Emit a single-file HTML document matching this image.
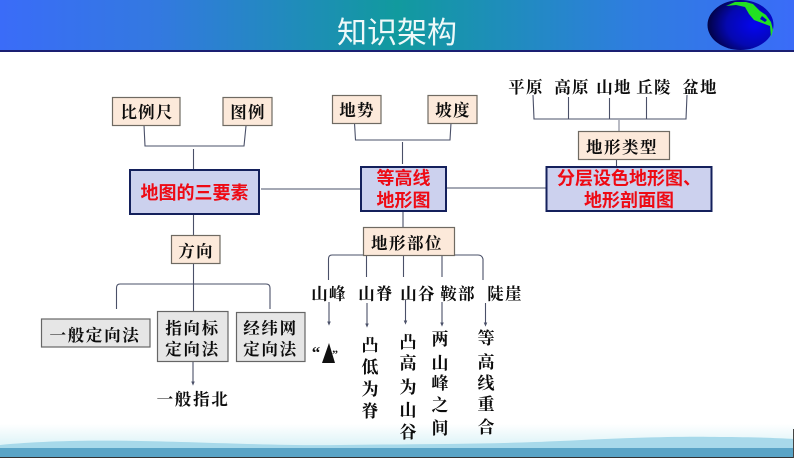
<!DOCTYPE html>
<html><head><meta charset="utf-8"><style>
html,body{margin:0;padding:0;background:#fff;width:794px;height:458px;overflow:hidden}
svg{display:block}
.k{font-family:"Liberation Serif","Noto Serif CJK SC",serif;font-size:16.500px;font-weight:700;fill:#0c0c0c;text-anchor:middle;letter-spacing:1.200px}
.v{font-family:"Liberation Serif","Noto Serif CJK SC",serif;font-size:17px;font-weight:700;fill:#0c0c0c;text-anchor:middle}
.r{font-family:"Liberation Sans","Noto Sans CJK SC",sans-serif;font-size:18px;font-weight:700;fill:#ee0a14;text-anchor:middle}
.c{fill:none;stroke:#4a5068;stroke-width:1.1}
.b{fill:#fce9da;stroke:#6f6a62;stroke-width:1.2}
.g{fill:#e6e6e6;stroke:#666;stroke-width:1.2}
.m{fill:#ccd1ee;stroke:#14205c;stroke-width:2}
</style></head><body>
<svg width="794" height="458" viewBox="0 0 794 458" xmlns="http://www.w3.org/2000/svg">
<defs>
<linearGradient id="h" x1="0" x2="1" y1="0" y2="0"><stop offset="0" stop-color="#3a6cf8"/><stop offset=".2" stop-color="#3379e0"/><stop offset=".5" stop-color="#119a9e"/><stop offset=".8" stop-color="#2f7de0"/><stop offset="1" stop-color="#3a6cf8"/></linearGradient>
<linearGradient id="f" x1="0" x2="0" y1="0" y2="1"><stop offset="0" stop-color="#fff"/><stop offset="1" stop-color="#d6f1f6"/></linearGradient>
<radialGradient id="e" cx=".72" cy=".5" r=".78"><stop offset="0" stop-color="#0505f0"/><stop offset=".55" stop-color="#0508b0"/><stop offset="1" stop-color="#01012c"/></radialGradient>
<marker id="a" markerWidth="5" markerHeight="5" refX="2.500" refY="2.500" orient="auto"><path d="M0 .8L4 2.500L0 4.200Z" fill="#4a5068"/></marker>
</defs>

<rect width="794" height="50" fill="url(#h)"/>
<rect y="50" width="794" height="2" fill="#1a1f72"/>
<text x="397" y="43" font-family="'Liberation Sans','Noto Sans CJK SC',sans-serif" font-size="30" fill="#eef9f9" text-anchor="middle">知识架构</text>

<ellipse cx="740.500" cy="25" rx="33" ry="25" fill="url(#e)"/>
<path d="M726 6L735 2L746 2L753 4L760 11L766 15L771 22L773 30L771 37L770 26L762 23L754 20L749 14L745 7L736 5Z" fill="#22e022"/>
<path d="M762 16L767 20L765 22L760 19Z" fill="#0505c0"/>

<rect y="424" width="794" height="26" fill="url(#f)"/>
<path d="M0 445C40 441 90 440 140 441C200 442 280 446 340 445C420 444 500 444 560 441C620 438 680 436 720 437C750 437 775 438 794 439V450H0Z" fill="#a7d9ea"/>
<rect y="448" width="794" height="9" fill="#5aa4c6"/>
<rect y="457" width="794" height="1" fill="#333"/>
<rect x="793" y="429" width="1" height="29" fill="#444"/>

<path class="c" d="M144 125L145 146H244L246 126"/>
<path class="c" d="M193.500 149V170"/>
<path class="c" d="M261 189H360"/>
<path class="c" d="M446 188H546"/>
<path class="c" d="M354.500 123L355.500 140H450L451 123"/>
<path class="c" d="M402.500 142V164"/>
<path class="c" d="M533 95L534 119H686L687 95M568.500 97V119M609.500 98V119M646.500 97V119"/>
<path class="c" d="M619 120V133" stroke-opacity=".7"/>
<path class="c" d="M616.500 159V167"/>
<path class="c" d="M193.500 214V235M193.500 263V312"/>
<path class="c" d="M116.500 309V288Q116.500 284 120 284H266Q270 284 270 288V309"/>
<path class="c" d="M193 362V384" marker-end="url(#a)"/>
<path class="c" d="M403 211V227"/>
<path class="c" d="M328.500 280V259Q328.500 255 332 255H478Q482 255 483 259V280"/>
<path class="c" d="M366.500 255V277M403.500 255V277M442 255V277"/>
<path class="c" d="M329 302V324" marker-end="url(#a)"/>
<path class="c" d="M367 303V326" marker-end="url(#a)"/>
<path class="c" d="M405.500 300V323" marker-end="url(#a)"/>
<path class="c" d="M442 302V325" marker-end="url(#a)"/>
<path class="c" d="M485.500 303V325" marker-end="url(#a)"/>

<rect class="b" x="112.500" y="97.500" width="67.500" height="28"/>
<text class="k" x="147" y="118">比例尺</text>
<rect class="b" x="223" y="97.500" width="49" height="28"/>
<text class="k" x="248" y="118">图例</text>
<rect class="b" x="332.500" y="95.500" width="48.500" height="28"/>
<text class="k" x="357" y="116">地势</text>
<rect class="b" x="428" y="95.500" width="49" height="28"/>
<text class="k" x="453" y="116">坡度</text>
<rect class="b" x="578.500" y="131.500" width="91" height="28"/>
<text class="k" x="622" y="153" style="letter-spacing:1.500px">地形类型</text>
<rect class="b" x="171.500" y="235.500" width="48.500" height="28"/>
<text class="k" x="196" y="257">方向</text>
<rect class="b" x="363.500" y="227.500" width="91" height="28"/>
<text class="k" x="407" y="249" style="letter-spacing:1.500px">地形部位</text>

<rect class="m" x="130" y="170" width="129" height="44"/>
<text class="r" x="194.500" y="199">地图的三要素</text>
<rect class="m" x="361" y="167" width="85" height="44"/>
<text class="r" x="403.500" y="184.500">等高线</text>
<text class="r" x="403.500" y="206.500">地形图</text>
<rect class="m" x="546.500" y="167" width="165" height="44"/>
<text class="r" x="629" y="184.500">分层设色地形图、</text>
<text class="r" x="629" y="206.500">地形剖面图</text>

<rect class="g" x="41.500" y="319" width="108.500" height="28"/>
<text class="k" x="95" y="341" style="letter-spacing:1.700px">一般定向法</text>
<rect class="g" x="157.500" y="311.500" width="70.500" height="50"/>
<text class="k" x="192.500" y="334" style="letter-spacing:1.700px">指向标</text>
<text class="k" x="192.500" y="355" style="letter-spacing:1.700px">定向法</text>
<rect class="g" x="236.500" y="312.500" width="68.500" height="49"/>
<text class="k" x="270.500" y="334" style="letter-spacing:1.700px">经纬网</text>
<text class="k" x="270.500" y="355" style="letter-spacing:1.700px">定向法</text>
<text class="k" x="193" y="405" style="letter-spacing:1.700px">一般指北</text>

<text class="k" x="526" y="93">平原</text>
<text class="k" x="572" y="93">高原</text>
<text class="k" x="614" y="93">山地</text>
<text class="k" x="654" y="93">丘陵</text>
<text class="k" x="700" y="93">盆地</text>
<text class="k" x="329" y="299.500">山峰</text>
<text class="k" x="376" y="299.500">山脊</text>
<text class="k" x="418" y="299.500">山谷</text>
<text class="k" x="458" y="299.500">鞍部</text>
<text class="k" x="505" y="299.500">陡崖</text>

<text x="316" y="358" font-family="'Liberation Serif',serif" font-size="17" font-weight="700" fill="#111" text-anchor="middle">“</text>
<path d="M329 343L335 363H322Z" fill="#111"/>
<text x="335" y="358" font-family="'Liberation Serif',serif" font-size="12" font-weight="700" fill="#111" text-anchor="middle">”</text>

<text class="v" x="370" y="351">凸</text><text class="v" x="370" y="373">低</text><text class="v" x="370" y="395">为</text><text class="v" x="370" y="417">脊</text>
<text class="v" x="408" y="348">凸</text><text class="v" x="408" y="369">高</text><text class="v" x="408" y="393">为</text><text class="v" x="408" y="416">山</text><text class="v" x="408" y="438">谷</text>
<text class="v" x="440" y="345">两</text><text class="v" x="440" y="369">山</text><text class="v" x="440" y="389">峰</text><text class="v" x="440" y="411">之</text><text class="v" x="440" y="434">间</text>
<text class="v" x="486" y="344">等</text><text class="v" x="486" y="368">高</text><text class="v" x="486" y="389">线</text><text class="v" x="486" y="410">重</text><text class="v" x="486" y="433">合</text>
</svg>
</body></html>
